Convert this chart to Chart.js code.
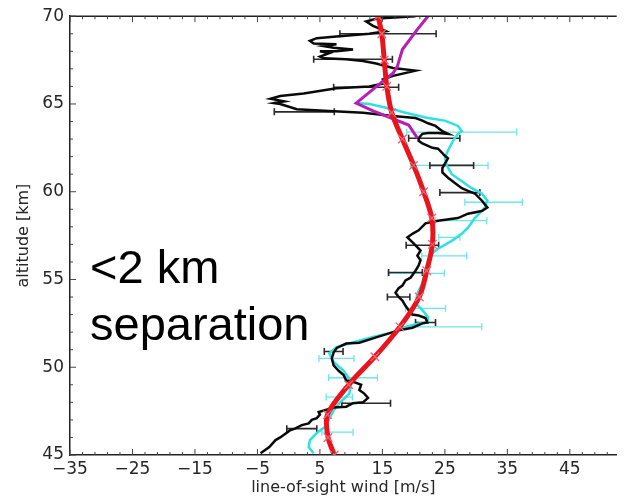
<!DOCTYPE html>
<html>
<head>
<meta charset="utf-8">
<script src="https://cdn.jsdelivr.net/npm/chart.js@4/dist/chart.umd.min.js"></script>
<style>
  html, body { margin: 0; padding: 0; background: #fff; }
  #wrap { width: 624px; height: 503px; }
</style>
</head>
<body>
<div id="wrap"><canvas id="profile"></canvas></div>
<script>
// axis ticks
const windTicks = [-35, -25, -15, -5, 5, 15, 25, 35, 45];
const altTicks = [45, 50, 55, 60, 65, 70];

// high resolution lidar profile (black)
const blackAlt = [45.1, 45.45, 45.85, 46.0, 46.4, 46.5, 46.7, 46.8, 47.0, 47.1,
  47.3, 47.45, 47.55, 47.7, 47.75, 47.95, 48.0, 48.25, 48.5, 48.7,
  49.0, 49.15, 49.25, 49.55, 49.8, 50.1, 50.5, 50.85, 51.1, 51.35,
  51.4, 51.7, 52.1, 52.25, 52.5, 52.55, 52.8, 52.95, 53.0, 53.25,
  53.5, 53.8, 54.0, 54.25, 54.5, 54.65, 54.95, 55.1, 55.5, 55.8,
  56.1, 56.35, 56.65, 57.05, 57.4, 57.6, 57.8, 58.2, 58.35, 58.5,
  58.75, 58.9, 59.1, 59.5, 59.9, 60.05, 60.2, 60.5, 60.8, 61.1,
  61.35, 61.6, 61.9, 62.05, 62.2, 62.45, 62.5, 62.75, 62.9, 63.05,
  63.3, 63.35, 63.35, 63.3, 63.45, 63.75, 63.9, 64.05, 64.2, 64.3,
  64.5, 64.6, 64.7, 65.0, 65.05, 65.15, 65.3, 65.45, 65.6, 65.9,
  66.0, 66.2, 66.4, 66.6, 66.9, 67.05, 67.3, 67.45, 67.55, 67.6,
  67.7, 67.9, 68.0, 68.0, 68.1, 68.2, 68.3, 68.4, 68.45, 68.6,
  68.75, 68.85, 69.0, 69.15, 69.45, 69.7, 69.85, 69.9, 70.0];
const blackWind = [-4.5, -3.1, -2.1, -1.35, 0.2, 1.0, 2.1, 3.2, 3.7, 4.5,
  5.0, 4.8, 5.8, 7.2, 9.2, 10.3, 11.9, 12.7, 12.1, 11.3,
  11.6, 10.5, 9.2, 8.8, 8.0, 7.2, 6.9, 7.2, 7.7, 9.2,
  11.3, 14.0, 17.6, 19.8, 21.4, 22.2, 21.9, 20.8, 19.8, 19.2,
  18.7, 18.2, 17.6, 17.1, 17.6, 18.2, 18.7, 19.5, 20.3, 20.8,
  21.1, 20.6, 21.1, 20.0, 19.0, 19.8, 20.8, 21.9, 23.9, 27.1,
  28.7, 30.9, 31.8, 30.9, 29.8, 28.7, 27.7, 26.6, 25.5, 24.6,
  24.6, 25.0, 25.5, 25.0, 24.6, 23.9, 23.0, 21.4, 20.8, 20.8,
  21.4, 22.3, 23.9, 25.5, 24.6, 23.5, 22.3, 21.4, 20.3, 17.1,
  11.9, 6.5, 1.3, -1.35, -2.3, -0.7, -2.9, -1.35, 2.4, 7.65,
  12.9, 15.55, 15.1, 16.7, 20.3, 16.7, 14.0, 11.9, 9.2, 5.6,
  5.0, 6.5, 5.0, 7.65, 10.3, 7.2, 5.6, 7.65, 4.0, 3.4,
  4.5, 7.65, 12.9, 15.55, 13.5, 12.4, 14.0, 15.55, 20.3];
const blackBarAlt = [46.5, 47.95, 50.9, 52.55, 54.0, 55.4, 56.95, 59.95, 61.5, 63.05, 64.55, 65.95, 67.55, 69.0];
const blackBarWind = [2.1, 12.4, 7.2, 21.9, 17.6, 18.7, 21.4, 27.4, 26.1, 23.3, 2.5, 12.4, 10.3, 15.9];
const blackBarErr = [2.4, 3.9, 1.5, 1.6, 1.8, 2.7, 2.6, 3.2, 3.5, 4.1, 4.8, 5.2, 6.3, 7.7];

// second profile (cyan)
const cyanAlt = [45.1, 45.45, 45.85, 46.25, 46.6, 47.0, 47.55, 47.95, 48.5, 49.1,
  49.45, 49.8, 50.3, 50.8, 51.15, 51.35, 51.7, 52.0, 52.3, 52.5,
  52.55, 52.85, 53.25, 53.65, 54.2, 54.8, 55.5, 56.1, 56.5, 56.75,
  57.2, 57.6, 57.95, 58.5, 59.1, 59.5, 59.9, 60.2, 60.6, 61.0,
  61.5, 61.95, 62.35, 62.9, 63.3, 63.45, 63.75, 64.05, 64.2, 64.5,
  64.7, 65.0, 65.05];
const cyanWind = [4.0, 3.2, 3.4, 4.5, 5.8, 6.4, 7.2, 8.1, 9.7, 10.0,
  9.5, 8.8, 7.2, 6.5, 7.65, 9.7, 13.2, 16.7, 18.7, 20.8,
  22.2, 22.3, 21.4, 20.3, 20.6, 21.4, 21.9, 22.3, 23.0, 23.9,
  26.1, 27.7, 28.7, 29.8, 31.4, 31.8, 30.9, 29.3, 27.7, 26.1,
  25.3, 25.0, 25.5, 26.3, 27.1, 27.7, 27.1, 25.0, 22.3, 18.7,
  16.7, 12.9, 11.1];
const cyanBarAlt = [46.3, 48.3, 49.4, 50.5, 52.3, 53.35, 55.35, 56.35, 57.4, 58.35, 59.4, 61.5, 63.4];
const cyanBarWind = [7.8, 8.1, 10.3, 7.65, 24.6, 21.9, 20.4, 24.9, 25.7, 27.6, 32.8, 25.7, 27.7];
const cyanBarErr = [2.5, 2.1, 3.9, 2.8, 6.3, 3.2, 4.5, 3.6, 1.7, 4.1, 4.6, 6.2, 8.8];

// upper profile (magenta)
const magentaAlt = [63.05, 63.8, 64.6, 65.05, 66.3, 66.75, 67.15, 68.1, 69.25, 70.0];
const magentaWind = [20.6, 19.2, 13.5, 10.8, 15.1, 16.7, 17.4, 18.2, 20.6, 22.3];

// smoothed model profile (red)
const redAlt = [45.0, 46.0, 47.3, 49.0, 50.6, 52.3, 54.0, 55.5, 57.0, 58.5, 60.0, 61.5, 63.0, 64.5, 66.0, 67.5, 69.0, 70.0];
const redWind = [7.3, 6.3, 6.2, 9.6, 13.8, 17.8, 20.9, 22.1, 23.0, 22.9, 21.6, 20.0, 18.2, 16.5, 15.7, 15.3, 14.9, 14.3];

const pairs = (xs, ys) => xs.map((v, i) => ({ x: v, y: ys[i] }));
const minus = v => String(v).replace('-', '\u2212');

// horizontal error bars with end caps
const errorBars = {
  id: 'errorBars',
  beforeDatasetsDraw(chart) {
    const { ctx, chartArea: a, scales: { x, y } } = chart;
    const draw = (alts, winds, errs, color, width) => {
      ctx.strokeStyle = color;
      ctx.lineWidth = width;
      alts.forEach((alt, i) => {
        const py = y.getPixelForValue(alt);
        const x0 = x.getPixelForValue(winds[i] - errs[i]);
        const x1 = x.getPixelForValue(winds[i] + errs[i]);
        ctx.beginPath();
        ctx.moveTo(x0, py); ctx.lineTo(x1, py);
        ctx.moveTo(x0, py - 3.5); ctx.lineTo(x0, py + 3.5);
        ctx.moveTo(x1, py - 3.5); ctx.lineTo(x1, py + 3.5);
        ctx.stroke();
      });
    };
    ctx.save();
    ctx.beginPath();
    ctx.rect(a.left, a.top, a.right - a.left, a.bottom - a.top);
    ctx.clip();
    draw(cyanBarAlt, cyanBarWind, cyanBarErr, '#6ee6ea', 1.3);
    draw(blackBarAlt, blackBarWind, blackBarErr, '#2a2a2a', 1.6);
    ctx.restore();
  }
};

// frame on top edge, inward major/minor ticks, and the annotation
const frame = {
  id: 'frame',
  afterDraw(chart) {
    const { ctx, chartArea: a, scales: { x, y } } = chart;
    ctx.save();
    ctx.strokeStyle = '#222';
    ctx.lineWidth = 1.5;
    ctx.beginPath();
    ctx.moveTo(a.left, a.top); ctx.lineTo(a.right, a.top);
    ctx.stroke();

    ctx.lineWidth = 1;
    ctx.strokeStyle = '#444';
    ctx.beginPath();
    for (let v = -35; v <= 52; v += 2) {
      const px = x.getPixelForValue(v);
      const len = (v + 35) % 10 === 0 ? 6 : 3;
      ctx.moveTo(px, a.bottom); ctx.lineTo(px, a.bottom - len);
      ctx.moveTo(px, a.top); ctx.lineTo(px, a.top + len);
    }
    for (let v = 45; v <= 70; v++) {
      const py = y.getPixelForValue(v);
      const len = v % 5 === 0 ? 6 : 3;
      ctx.moveTo(a.left, py); ctx.lineTo(a.left + len, py);
    }
    ctx.stroke();

    ctx.fillStyle = '#000';
    ctx.font = '47px "Liberation Sans", Arial, sans-serif';
    ctx.textBaseline = 'alphabetic';
    ctx.textAlign = 'left';
    ctx.fillText('<2 km', 90, 283);
    ctx.fillText('separation', 90, 340);
    ctx.restore();
  }
};

const tickFont = { family: '"DejaVu Sans", sans-serif', size: 17 };

new Chart(document.getElementById('profile'), {
  type: 'scatter',
  data: {
    datasets: [
      {
        label: 'red',
        data: pairs(redWind, redAlt),
        showLine: true,
        tension: 0.3,
        borderColor: '#e8161c',
        borderWidth: 5,
        pointStyle: 'crossRot',
        pointRadius: 6,
        pointBorderColor: '#f06070',
        pointBorderWidth: 1.3,
        pointBackgroundColor: 'transparent'
      },
      {
        label: 'magenta',
        data: pairs(magentaWind, magentaAlt),
        showLine: true,
        borderColor: '#b51fb5',
        borderWidth: 3,
        pointRadius: 0
      },
      {
        label: 'black',
        data: pairs(blackWind, blackAlt),
        showLine: true,
        borderColor: '#0a0a0a',
        borderWidth: 2.5,
        pointRadius: 0
      },
      {
        label: 'cyan',
        data: pairs(cyanWind, cyanAlt),
        showLine: true,
        borderColor: '#2fe0e3',
        borderWidth: 2.5,
        pointRadius: 0
      }
    ]
  },
  options: {
    responsive: true,
    maintainAspectRatio: false,
    animation: false,
    layout: { padding: { top: 15, right: 0, left: 0, bottom: 0 } },
    plugins: { legend: { display: false }, tooltip: { enabled: false } },
    scales: {
      x: {
        type: 'linear',
        min: -35,
        max: 52.5,
        afterBuildTicks: s => { s.ticks = windTicks.map(v => ({ value: v })); },
        afterFit: s => { s.height = 48; },
        grid: { display: false, drawTicks: false },
        border: { display: true, color: '#222', width: 1.5 },
        ticks: { font: tickFont, color: '#262626', padding: 4, maxRotation: 0, callback: v => minus(v) },
        title: {
          display: true,
          text: 'line-of-sight wind [m/s]',
          font: { family: '"DejaVu Sans", sans-serif', size: 16, lineHeight: 1.2 },
          color: '#262626',
          padding: { top: 0, bottom: 6 }
        }
      },
      y: {
        type: 'linear',
        min: 45,
        max: 70,
        afterBuildTicks: s => { s.ticks = altTicks.map(v => ({ value: v })); },
        afterFit: s => { s.width = 70; },
        grid: { display: false, drawTicks: false },
        border: { display: true, color: '#222', width: 1.5 },
        ticks: { font: tickFont, color: '#262626', padding: 6 },
        title: {
          display: true,
          text: 'altitude [km]',
          font: { family: '"DejaVu Sans", sans-serif', size: 16, lineHeight: 1.2 },
          color: '#262626',
          padding: { top: 14, bottom: 0 }
        }
      }
    }
  },
  plugins: [errorBars, frame]
});
</script>
</body>
</html>
